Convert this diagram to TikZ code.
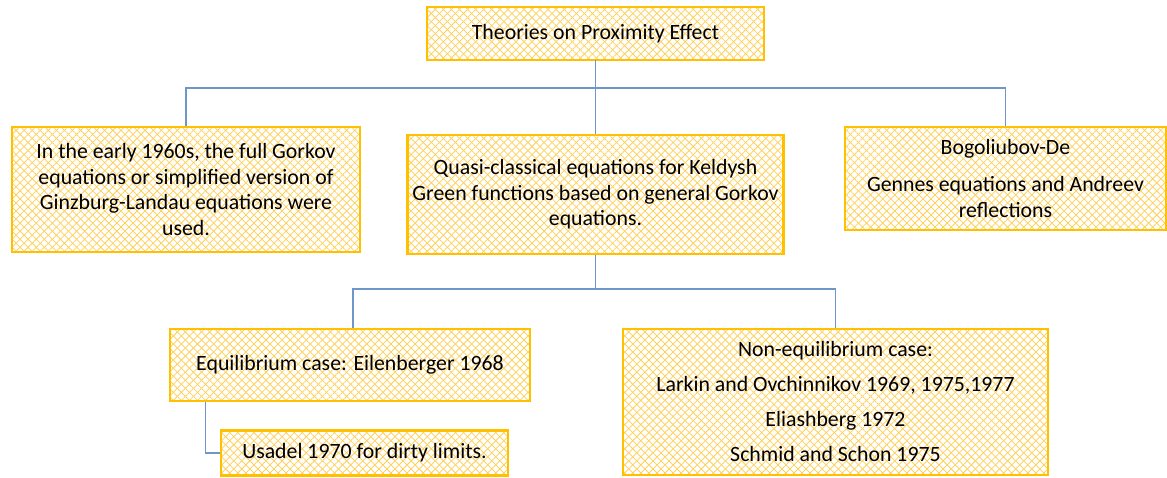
\documentclass[tikz,border=0pt]{standalone}
\usepackage{fontspec}
\setmainfont{Carlito}
\usepackage{tikz}
\usetikzlibrary{positioning,patterns.meta}

\definecolor{boxline}{RGB}{255,192,0}
\definecolor{hatch}{RGB}{255,208,85}
\definecolor{linkline}{RGB}{110,150,200}

\begin{document}
\begin{tikzpicture}[
    x=1pt, y=-1pt,
    font=\fontsize{21.8}{25.5}\selectfont,
    hatchbox/.style={draw=boxline, line width=2.6pt, inner sep=0pt, align=center,
        preaction={fill=white},
        preaction={pattern={Lines[angle=45,distance=5.7pt,line width=0.75pt]}, pattern color=hatch},
        pattern={Lines[angle=-45,distance=5.7pt,line width=0.75pt]}, pattern color=hatch},
    link/.style={draw=linkline, line width=1.2pt}
    ]
    \useasboundingbox (0,0) rectangle (1167,477);

    %Top node
    \node[hatchbox, minimum width=337pt, minimum height=53pt]   (top)       at (595.5,33.5) {Theories on Proximity Effect};

    %Middle row
    \node[hatchbox, minimum width=348pt, minimum height=125pt]  (left_box)  at (186,189.5)
        {In the early 1960s, the full Gorkov\\ equations or simplified version of\\ Ginzburg-Landau equations were\\ used.};
    \node[hatchbox, minimum width=376pt, minimum height=119pt]  (mid_box)   at (595.5,194.5)
        {Quasi-classical equations for Keldysh\\ Green functions based on general Gorkov\\ equations.};
    \node[hatchbox, minimum width=321pt, minimum height=103pt]  (right_box) at (1005.5,178.5)
        {Bogoliubov-De\\[12pt] Gennes equations and Andreev\\ reflections};

    %Bottom row
    \node[hatchbox, minimum width=360pt, minimum height=72pt]   (eq_box)    at (350,365)
        {Equilibrium case: Eilenberger 1968};
    \node[hatchbox, minimum width=425pt, minimum height=146pt]  (neq_box)   at (835.5,402)
        {Non-equilibrium case:\\[9.5pt] Larkin and Ovchinnikov 1969, 1975,1977\\[9.5pt] Eliashberg 1972\\[9.5pt] Schmid and Schon 1975};
    \node[hatchbox, minimum width=287pt, minimum height=45pt]   (us_box)    at (364.5,453)
        {Usadel 1970 for dirty limits.};

    %Split points
    \coordinate (top_split) at (595.5,88);
    \coordinate (mid_split) at (595.5,289);

    %Lines
    \draw[link] (top.south) -- (mid_box.north);
    \draw[link] (left_box.north) |- (top_split) -| (right_box.north);

    \draw[link] (mid_box.south) -- (mid_split);
    \draw[link] ([xshift=3pt]eq_box.north) |- (mid_split) -| (neq_box.north);

    \draw[link] ([xshift=37pt]eq_box.south west) |- (us_box.west);

\end{tikzpicture}
\end{document}
